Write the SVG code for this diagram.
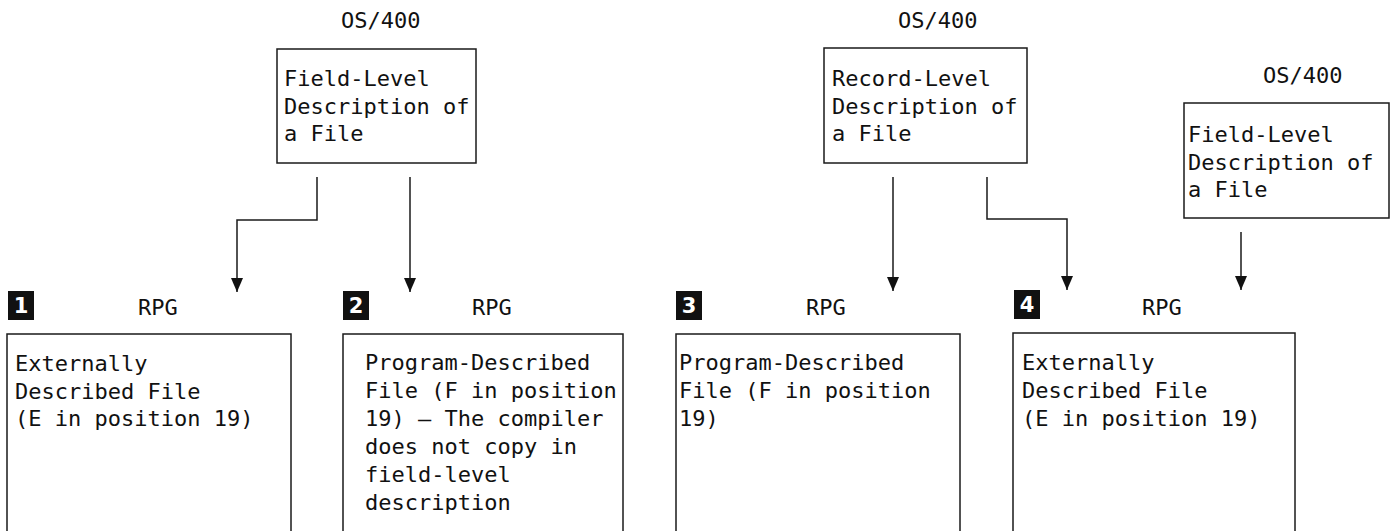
<svg xmlns="http://www.w3.org/2000/svg" width="1398" height="531" viewBox="0 0 1398 531">
<style>
  .bg{fill:#ffffff}
  .box{fill:none;stroke:#1a1a1a;stroke-width:1.5}
  .t{font-family:"DejaVu Sans Mono","Liberation Mono",monospace;font-size:22px;fill:#111}
  .badge{fill:#111}
  .bt{font-family:"DejaVu Sans","Liberation Sans",sans-serif;font-size:21px;font-weight:bold;fill:#fff;text-anchor:middle}
  .ln{fill:none;stroke:#1a1a1a;stroke-width:1.5}
</style>
<defs>
  <marker id="arr" markerWidth="14" markerHeight="12" refX="14" refY="6" orient="auto" markerUnits="userSpaceOnUse" viewBox="0 0 14 12">
    <path d="M0,0 L14,6 L0,12 Z" fill="#111"/>
  </marker>
</defs>
<rect class="bg" x="0" y="0" width="1398" height="531"/>

<g id="os400-field-1">
  <text class="t" x="341" y="28">OS/400</text>
  <rect class="box" x="277" y="49" width="199" height="114"/>
  <text class="t" x="284" y="86">Field-Level</text>
  <text class="t" x="284" y="113.5">Description of</text>
  <text class="t" x="284" y="141">a File</text>
</g>

<g id="os400-record">
  <text class="t" x="898" y="28">OS/400</text>
  <rect class="box" x="824" y="48" width="203" height="115"/>
  <text class="t" x="832" y="86">Record-Level</text>
  <text class="t" x="832" y="113.5">Description of</text>
  <text class="t" x="832" y="141">a File</text>
</g>

<g id="os400-field-2">
  <text class="t" x="1263" y="83">OS/400</text>
  <rect class="box" x="1184" y="103" width="205" height="115"/>
  <text class="t" x="1188" y="142">Field-Level</text>
  <text class="t" x="1188" y="169.5">Description of</text>
  <text class="t" x="1188" y="197">a File</text>
</g>

<g id="rpg-1">
  <rect class="badge" x="8" y="291" width="26" height="29"/>
  <text class="bt" x="21" y="313">1</text>
  <text class="t" x="138" y="315">RPG</text>
  <rect class="box" x="7" y="334" width="284" height="210"/>
  <text class="t" x="15" y="371">Externally</text>
  <text class="t" x="15" y="398.5">Described File</text>
  <text class="t" x="15" y="426">(E in position 19)</text>
</g>

<g id="rpg-2">
  <rect class="badge" x="343" y="291" width="26" height="29"/>
  <text class="bt" x="356" y="313">2</text>
  <text class="t" x="472" y="315">RPG</text>
  <rect class="box" x="343" y="334" width="280" height="210"/>
  <text class="t" x="365" y="370">Program-Described</text>
  <text class="t" x="365" y="398">File (F in position</text>
  <text class="t" x="365" y="426">19) — The compiler</text>
  <text class="t" x="365" y="454">does not copy in</text>
  <text class="t" x="365" y="482">field-level</text>
  <text class="t" x="365" y="510">description</text>
</g>

<g id="rpg-3">
  <rect class="badge" x="676" y="291" width="26" height="29"/>
  <text class="bt" x="689" y="313">3</text>
  <text class="t" x="806" y="315">RPG</text>
  <rect class="box" x="676" y="334" width="284" height="210"/>
  <text class="t" x="679" y="370">Program-Described</text>
  <text class="t" x="679" y="398">File (F in position</text>
  <text class="t" x="679" y="426">19)</text>
</g>

<g id="rpg-4">
  <rect class="badge" x="1014" y="290" width="26" height="29"/>
  <text class="bt" x="1027" y="312">4</text>
  <text class="t" x="1142" y="315">RPG</text>
  <rect class="box" x="1013" y="333" width="282" height="210"/>
  <text class="t" x="1022" y="370">Externally</text>
  <text class="t" x="1022" y="398">Described File</text>
  <text class="t" x="1022" y="426">(E in position 19)</text>
</g>

<g id="connectors">
  <polyline class="ln" points="317,177 317,220 237,220 237,292" marker-end="url(#arr)"/>
  <polyline class="ln" points="410,177 410,292" marker-end="url(#arr)"/>
  <polyline class="ln" points="893,177 893,291" marker-end="url(#arr)"/>
  <polyline class="ln" points="987,177 987,219 1067,219 1067,290" marker-end="url(#arr)"/>
  <polyline class="ln" points="1241,232 1241,290" marker-end="url(#arr)"/>
</g>
</svg>
